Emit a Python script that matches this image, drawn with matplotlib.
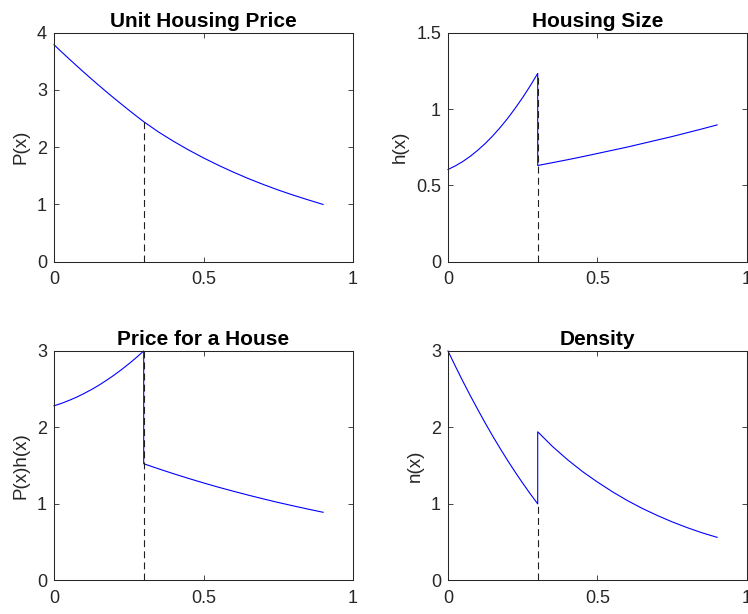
import matplotlib
matplotlib.use("Agg")
import matplotlib.pyplot as plt

plt.rcParams['font.family'] = ['Liberation Sans', 'DejaVu Sans']
plt.rcParams['lines.scale_dashes'] = False

# ---- data ----
x_left = [0.0, 0.025, 0.05, 0.075, 0.1, 0.125, 0.15, 0.175, 0.2, 0.225, 0.25, 0.275, 0.3]
x_right = [0.3, 0.35, 0.4, 0.45, 0.5, 0.55, 0.6, 0.65, 0.7, 0.75, 0.8, 0.85, 0.9]
x_break = 0.3

price_left = [3.790, 3.666, 3.545, 3.426, 3.308, 3.193, 3.080, 2.969, 2.860, 2.754, 2.649, 2.546, 2.446]
price_right = [2.446, 2.264, 2.102, 1.952, 1.813, 1.684, 1.564, 1.452, 1.349, 1.252, 1.163, 1.080, 1.000]

size_left = [0.604, 0.628, 0.657, 0.691, 0.731, 0.775, 0.825, 0.880, 0.940, 1.006, 1.076, 1.152, 1.233]
size_right = [0.630, 0.649, 0.668, 0.688, 0.709, 0.730, 0.751, 0.774, 0.797, 0.820, 0.845, 0.870, 0.896]

house_left = [2.283, 2.315, 2.353, 2.395, 2.443, 2.495, 2.552, 2.615, 2.682, 2.754, 2.831, 2.913, 3.000]
house_right = [1.525, 1.458, 1.394, 1.333, 1.274, 1.218, 1.165, 1.114, 1.065, 1.018, 0.974, 0.931, 0.890]

dens_left = [3.000, 2.798, 2.602, 2.413, 2.231, 2.054, 1.884, 1.721, 1.564, 1.414, 1.270, 1.132, 1.000]
dens_right = [1.943, 1.749, 1.577, 1.422, 1.285, 1.158, 1.043, 0.940, 0.848, 0.764, 0.689, 0.621, 0.562]

titles = ["Unit Housing Price", "Housing Size", "Price for a House", "Density"]
ylabels = ["P(x)", "h(x)", "P(x)h(x)", "n(x)"]
ylims = [(0, 4), (0, 1.5), (0, 3), (0, 3)]
yticks = [[0, 1, 2, 3, 4], [0, 0.5, 1, 1.5], [0, 1, 2, 3], [0, 1, 2, 3]]
ytick_labels = [["0", "1", "2", "3", "4"], ["0", "0.5", "1", "1.5"],
                ["0", "1", "2", "3"], ["0", "1", "2", "3"]]
xticks = [0, 0.5, 1]
xtick_labels = ["0", "0.5", "1"]

series = [(price_left, price_right), (size_left, size_right),
          (house_left, house_right), (dens_left, dens_right)]

W, H = 748, 614
fig = plt.figure(figsize=(W / 100, H / 100), dpi=100)

positions = [
    (54, 32.7, 299, 229), (448, 32.7, 299, 229),
    (54, 351, 299, 229.3), (448, 351, 299, 229.3),
]

axcol = (0.15, 0.15, 0.15)
for i, (l, t, w, h) in enumerate(positions):
    ax = fig.add_axes([l / W, 1 - (t + h) / H, w / W, h / H])
    yl, yr = series[i]
    ax.plot(x_left + x_right, yl + yr, color=(0, 0, 1), lw=0.8, clip_on=False)
    ax.plot([x_break, x_break], [0, yl[-1]], color=(0.12, 0.12, 0.12), lw=0.8,
            linestyle=(0, (5, 3)))
    ax.set_xlim(0, 1)
    ax.set_ylim(*ylims[i])
    ax.set_xticks(xticks)
    ax.set_xticklabels(xtick_labels)
    ax.set_yticks(yticks[i])
    ax.set_yticklabels(ytick_labels[i])
    ax.tick_params(direction='in', length=3.5, width=0.6, colors=axcol,
                   labelsize=13, top=True, right=True)
    ax.tick_params(axis='x', pad=7)
    ax.tick_params(axis='y', pad=5)
    for sp in ax.spines.values():
        sp.set_color(axcol)
        sp.set_linewidth(0.75)
    ax.set_title(titles[i], fontsize=15, fontweight='bold', pad=4)
    ax.set_ylabel(ylabels[i], fontsize=13.5, color=axcol, labelpad=5)

fig.savefig("out.png", dpi=100)
